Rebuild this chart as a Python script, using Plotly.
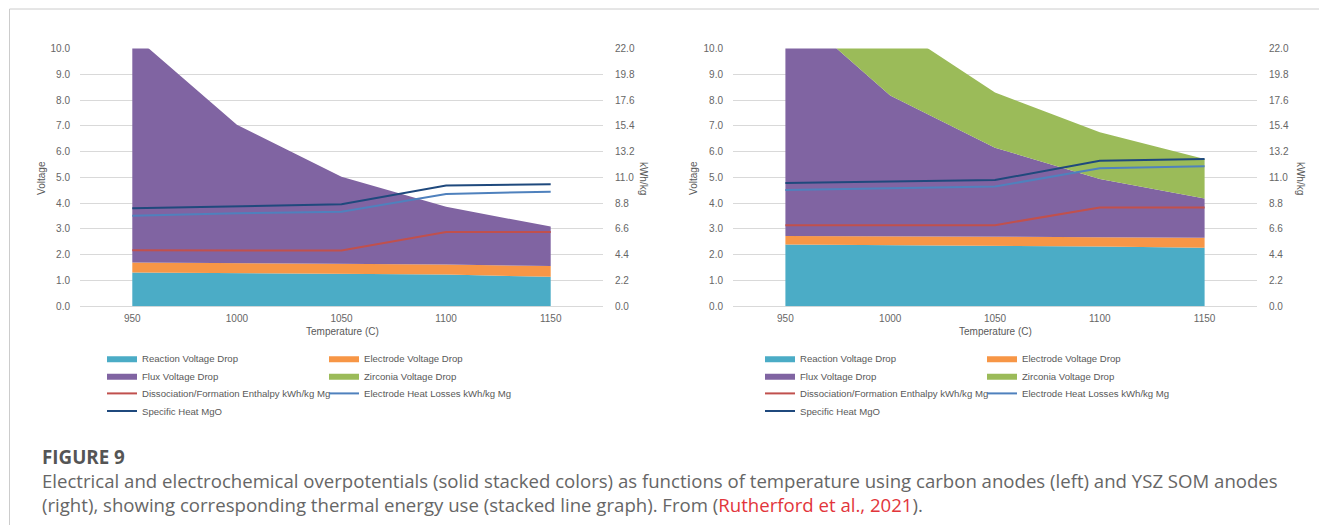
import plotly.graph_objects as go

W, H = 1319, 531

temps = [950, 1000, 1050, 1100, 1150]

# Left chart: carbon anodes (stacked voltage drops, V)
carbon_reaction = [1.31, 1.29, 1.27, 1.23, 1.14]
carbon_electrode = [0.39, 0.39, 0.39, 0.39, 0.42]
carbon_flux = [8.86, 5.36, 3.37, 2.24, 1.53]
carbon_zirconia = [0.0, 0.0, 0.0, 0.0, 0.0]
# Left chart: thermal energy (stacked lines, kWh/kg)
carbon_enthalpy = [4.77, 4.77, 4.75, 6.33, 6.33]
carbon_heatloss = [2.96, 3.17, 3.32, 3.26, 3.45]
carbon_specheat = [0.63, 0.56, 0.63, 0.71, 0.64]

# Right chart: YSZ SOM anodes (stacked voltage drops, V)
som_reaction = [2.40, 2.38, 2.35, 2.32, 2.27]
som_electrode = [0.33, 0.34, 0.35, 0.36, 0.39]
som_flux = [9.02, 5.46, 3.45, 2.26, 1.52]
som_zirconia = [3.60, 2.79, 2.15, 1.81, 1.53]
# Right chart: thermal energy (stacked lines, kWh/kg)
som_enthalpy = [6.92, 6.92, 6.92, 8.43, 8.43]
som_heatloss = [3.00, 3.13, 3.30, 3.35, 3.52]
som_specheat = [0.60, 0.58, 0.55, 0.65, 0.62]

volt_ticks = [0, 1, 2, 3, 4, 5, 6, 7, 8, 9, 10]
kwh_ticks = [0, 2.2, 4.4, 6.6, 8.8, 11.0, 13.2, 15.4, 17.6, 19.8, 22.0]

names = ["Reaction Voltage Drop", "Electrode Voltage Drop", "Flux Voltage Drop",
         "Zirconia Voltage Drop", "Dissociation/Formation Enthalpy kWh/kg Mg",
         "Electrode Heat Losses kWh/kg Mg", "Specific Heat MgO"]
area_colors = ["#4BACC6", "#F79646", "#8064A2", "#9BBB59"]
line_colors = ["#C0504D", "#4F81BD", "#1F497D"]

FONT = "Arial, Liberation Sans, sans-serif"
TICKC = "#666666"

fig = go.Figure()

# vertical calibration of the capture (observed rows ~ 5.5 + 0.977 * page rows)
CAL_A, CAL_S = 5.5, 0.977

def px_x(p):
    return p / W

def px_y(p):
    return 1 - ((p - CAL_A) / CAL_S) / H

panels = [
    dict(xa="x", ya="y", ya2="y2",
         areas=[carbon_reaction, carbon_electrode, carbon_flux, carbon_zirconia],
         lines=[carbon_enthalpy, carbon_heatloss, carbon_specheat],
         legends=["legend", "legend2", "legend3", "legend4"], sg="L"),
    dict(xa="x2", ya="y3", ya2="y4",
         areas=[som_reaction, som_electrode, som_flux, som_zirconia],
         lines=[som_enthalpy, som_heatloss, som_specheat],
         legends=["legend5", "legend6", "legend7", "legend8"], sg="R"),
]

leg_for_item = [0, 0, 1, 1, 2, 2, 3]

for p in panels:
    for i, vals in enumerate(p["areas"]):
        fig.add_trace(go.Scatter(
            x=temps, y=vals, name=names[i], mode="lines",
            stackgroup="area" + p["sg"], line=dict(width=0, color=area_colors[i]),
            fillcolor=area_colors[i], xaxis=p["xa"], yaxis=p["ya"],
            legend=p["legends"][leg_for_item[i]], hoverinfo="skip"))
    for j, vals in enumerate(p["lines"]):
        fig.add_trace(go.Scatter(
            x=temps, y=vals, name=names[4 + j], mode="lines",
            stackgroup="heat" + p["sg"], fill="none",
            line=dict(width=2, color=line_colors[j]),
            xaxis=p["xa"], yaxis=p["ya2"],
            legend=p["legends"][leg_for_item[4 + j]], hoverinfo="skip"))

# geometry (target pixels)
L_x0, L_x1 = 80, 603
R_x0, R_x1 = 733, 1257
y_top, y_bot = 49, 306

xaxis_common = dict(range=[925, 1175], tickvals=temps, showgrid=False, zeroline=False,
                    showline=False, ticks="", tickfont=dict(family=FONT, size=10, color=TICKC),
                    ticklabelstandoff=5)
yaxis_common = dict(range=[0, 10], tickvals=volt_ticks, tickformat=".1f", showgrid=True,
                    gridcolor="#D9D9D9", gridwidth=1, zeroline=True, zerolinecolor="#D9D9D9",
                    zerolinewidth=1, showline=False, ticks="",
                    tickfont=dict(family=FONT, size=10, color=TICKC), ticklabelstandoff=9)
y2_common = dict(range=[0, 22], tickvals=kwh_ticks, tickformat=".1f", showgrid=False,
                 zeroline=False, showline=False, ticks="", side="right",
                 tickfont=dict(family=FONT, size=10, color=TICKC), ticklabelstandoff=11)

fig.update_layout(
    xaxis=dict(domain=[px_x(L_x0), px_x(L_x1)], anchor="y", **xaxis_common),
    xaxis2=dict(domain=[px_x(R_x0), px_x(R_x1)], anchor="y3", **xaxis_common),
    yaxis=dict(domain=[px_y(y_bot), px_y(y_top)], anchor="x", **yaxis_common),
    yaxis2=dict(overlaying="y", anchor="x", **y2_common),
    yaxis3=dict(domain=[px_y(y_bot), px_y(y_top)], anchor="x2", **yaxis_common),
    yaxis4=dict(overlaying="y3", anchor="x2", **y2_common),
)

legend_rows_y = [358, 375.5, 393, 410.5]
legend_base = dict(orientation="h", entrywidthmode="pixels", entrywidth=177,
                   font=dict(family=FONT, size=9.6, color="#595959"),
                   bgcolor="rgba(0,0,0,0)", xanchor="left", yanchor="middle",
                   tracegroupgap=0, itemwidth=30, traceorder="normal")
for k in range(4):
    key_l = "legend" if k == 0 else "legend%d" % (k + 1)
    key_r = "legend%d" % (k + 5)
    fig.update_layout({key_l: dict(x=px_x(102), y=px_y(legend_rows_y[k]), **legend_base),
                       key_r: dict(x=px_x(760), y=px_y(legend_rows_y[k]), **legend_base)})

annotations = []
def ann(text, x, y, size=10, angle=0, color="#595959", xanchor="center", family=FONT,
        align="center"):
    annotations.append(dict(text=text, x=px_x(x), y=px_y(y), xref="paper", yref="paper",
                            showarrow=False, textangle=angle, xanchor=xanchor, yanchor="middle",
                            align=align, font=dict(family=family, size=size, color=color)))

ann("Temperature (C)", 342, 331)
ann("Temperature (C)", 995, 331)
ann("Voltage", 42, 178, angle=-90)
ann("Voltage", 694, 178, angle=-90)
ann("kWh/kg", 643, 178, angle=90)
ann("kWh/kg", 1300, 178, angle=90)

CAP = "Open Sans, Noto Sans, sans-serif"
ann("<b>FIGURE 9</b>", 40, 456, size=18.8, color="#555555", xanchor="left", family=CAP)
ann("Electrical and electrochemical overpotentials (solid stacked colors) as functions of "
    "temperature using carbon anodes (left) and YSZ SOM anodes<br>"
    "(right), showing corresponding thermal energy use (stacked line graph). From "
    "(<span style='color:#E2353B'>Rutherford et al., 2021</span>).", 40, 492, size=18.6,
    color="#666666", xanchor="left", family=CAP, align="left")

y_frame = px_y(9.5)
shapes = [
    dict(type="line", xref="paper", yref="paper", x0=px_x(9.5), x1=1, y0=y_frame, y1=y_frame,
         line=dict(color="#CCCCCC", width=1)),
    dict(type="line", xref="paper", yref="paper", x0=px_x(9.5), x1=px_x(9.5), y0=y_frame, y1=0,
         line=dict(color="#CCCCCC", width=1)),
]

fig.update_layout(
    width=W, height=H, margin=dict(l=0, r=0, t=0, b=0),
    paper_bgcolor="white", plot_bgcolor="white",
    annotations=annotations, shapes=shapes, showlegend=True,
    font=dict(family=FONT),
)

# remove the default page margin so the 1319x531 figure fills the window exactly
fig.write_html("out.html", config={"displayModeBar": False},
               post_script="document.body.style.margin='0';"
                           "document.body.style.overflow='hidden';")
